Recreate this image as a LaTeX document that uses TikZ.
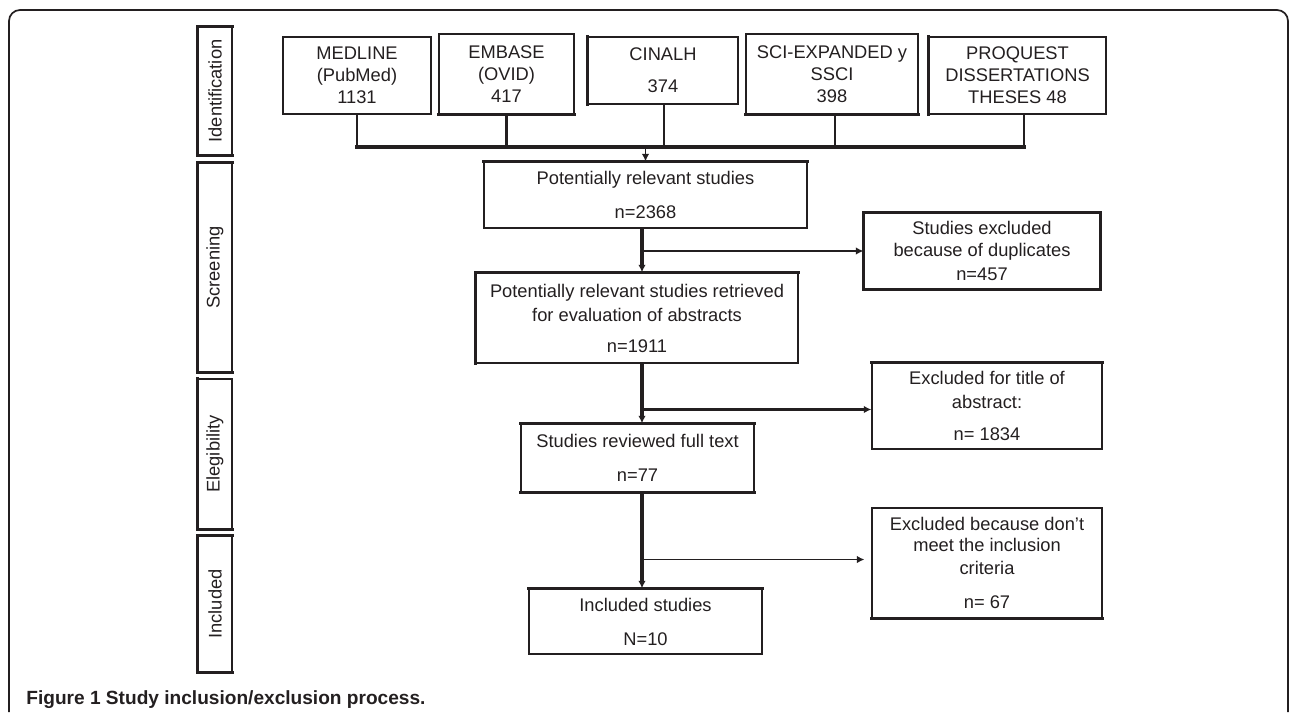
\documentclass[tikz,border=0pt]{standalone}
\usepackage{fontspec}
\setmainfont{Liberation Sans}
\usepackage{graphicx}
\usetikzlibrary{arrows.meta,calc}
\definecolor{ink}{RGB}{35,31,32}
\newcommand\bxfont{\fontsize{9.15}{11}\selectfont}
\begin{document}
\begin{tikzpicture}[x=0.5pt,y=-0.5pt, ink, text=ink,
  box/.style={draw=ink, line width=0.65pt, inner sep=0pt, align=center, font=\bxfont},
  heavy/.style={draw=ink, line width=1.65pt, line cap=rect},
  lite/.style={draw=ink, line width=0.65pt},
  tip/.style={-{Latex[length=3.8pt,width=3.8pt]}},
]
\useasboundingbox (0,0) rectangle (1290,712);
% frame
\draw[line width=0.85pt, rounded corners=5.5pt] (9,712) -- (9,10) -- (1288,10) -- (1288,712);

% phase labels
\node[box, minimum width=17pt, minimum height=64pt] (ph1) at (215,91) {\rotatebox{90}{Identification}};
\node[box, minimum width=17pt, minimum height=104.5pt] (ph2) at (215,267.5) {\rotatebox{90}{Screening}};
\node[box, minimum width=17pt, minimum height=75pt] (ph3) at (215,454) {\rotatebox{90}{Elegibility}};
\node[box, minimum width=17pt, minimum height=68pt] (ph4) at (215,604) {\rotatebox{90}{Included}};
\draw[heavy] (ph1.north east) -- (ph1.north west) -- (ph1.south west) -- (ph1.south east);
\draw[heavy] (ph2.north east) -- (ph2.north west) -- (ph2.south west) -- (ph2.south east);
\draw[heavy] (ph3.north west) -- (ph3.south west) -- (ph3.south east);
\draw[heavy] (ph4.north east) -- (ph4.north west) -- (ph4.south west) -- (ph4.south east);

% sources
\node[box, minimum width=74pt, minimum height=38.5pt] (med) at (357,75.5) {MEDLINE\\(PubMed)\\1131};
\node[box, minimum width=67.5pt, minimum height=40pt] (emb) at (506.5,74) {EMBASE\\(OVID)\\417};
\node[box, minimum width=75pt, minimum height=33.5pt] (cin) at (663,70.5) {CINALH\\[5pt]374};
\node[box, minimum width=86pt, minimum height=40pt] (sci) at (832,74) {SCI-EXPANDED y\\SSCI\\398};
\node[box, minimum width=88.5pt, minimum height=38.5pt] (pro) at (1017.5,75.5) {PROQUEST\\DISSERTATIONS\\THESES 48};
\draw[heavy] (emb.south west) -- (emb.south east);
\draw[heavy] (cin.north west) -- (cin.south west);
\draw[heavy] (sci.south west) -- (sci.south east);
\draw[heavy] (pro.north west) -- (pro.south west);

% main column
\node[box, minimum width=161.5pt, minimum height=33pt] (P1) at (645.5,195) {Potentially relevant studies\\[6pt]n=2368};
\node[box, minimum width=161pt, minimum height=45pt] (P2) at (637,318) {Potentially relevant studies retrieved\\[1pt]for evaluation of abstracts\\[4.5pt]n=1911};
\node[box, minimum width=116.5pt, minimum height=34pt] (P3) at (637.5,458) {Studies reviewed full text\\[6pt]n=77};
\node[box, minimum width=116.5pt, minimum height=32.5pt] (P4) at (645.5,621.5) {Included studies\\[6pt]N=10};
\draw[heavy] (P1.north west) -- (P1.north east);
\draw[heavy] (P2.south west) -- (P2.north west) -- (P2.north east);
\draw[heavy] (P3.north west) -- (P3.north east);
\draw[heavy] (P3.south west) -- (P3.south east);
\draw[heavy] (P4.north west) -- (P4.north east);

% exclusions
\node[box, minimum width=118pt, minimum height=38pt] (D1) at (982,251) {Studies excluded\\because of duplicates\\[1pt]n=457};
\node[box, minimum width=115pt, minimum height=43pt] (E1) at (987,406) {Excluded for title of\\[1pt]abstract:\\[5pt]n= 1834};
\node[box, minimum width=115pt, minimum height=55pt] (E2) at (987,563) {Excluded because don't\\[-0.5pt]meet the inclusion\\[0.5pt]criteria\\[6pt]n= 67};
\draw[heavy] (D1.north west) rectangle (D1.south east);
\draw[heavy] (E1.north west) -- (E1.north east);
\draw[heavy] (E2.south west) -- (E2.south east);

% connectors
\coordinate (bus) at (0,147);
\coordinate (ax) at (642,0);
\coordinate (cinl) at ($(cin.south)+(0.5pt,0)$);
\coordinate (scil) at ($(sci.south)+(1.5pt,0)$);
\coordinate (prol) at ($(pro.south)+(3.25pt,0)$);
\draw[lite] (med.south) -- (med.south |- bus);
\draw[heavy, line cap=butt] (emb.south) -- (emb.south |- bus);
\draw[lite] (cinl) -- (cinl |- bus);
\draw[lite] (scil) -- (scil |- bus);
\draw[lite] (prol) -- (prol |- bus);
\draw[heavy] (med.south |- bus) -- (prol |- bus);
\draw[lite, tip] (P1.north |- bus) -- (P1.north);
\draw[heavy, line cap=butt, tip] (ax |- P1.south) -- (ax |- P2.north);
\draw[heavy, line cap=butt, tip] (ax |- P2.south) -- (ax |- P3.north);
\draw[heavy, line cap=butt, tip] (ax |- P3.south) -- (ax |- P4.north);
\draw[lite, tip] (ax |- D1.west) -- (D1.west);
\coordinate (b2) at (642,409.5);
\draw[heavy, line cap=butt, tip] (b2) -- (b2 -| E1.west);
\coordinate (b3) at (642,559.5);
\draw[lite, tip, shorten >=3.5pt] (b3) -- (b3 -| E2.west);

% caption
\node[anchor=base west, inner sep=0pt, font=\fontsize{9.55}{12}\selectfont\bfseries] (cap) at (26,704) {Figure 1 Study inclusion/exclusion process.};
\end{tikzpicture}
\end{document}
